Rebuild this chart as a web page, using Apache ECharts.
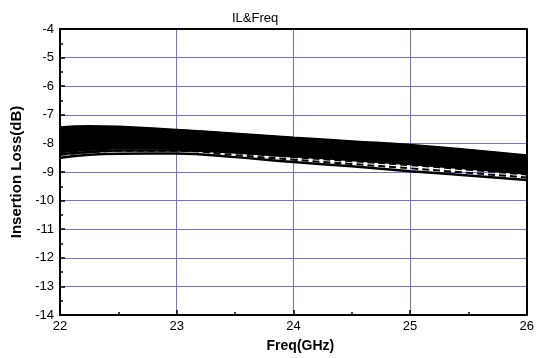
<!DOCTYPE html>
<html>
<head>
<meta charset="utf-8">
<script src="https://cdn.jsdelivr.net/npm/echarts@6/dist/echarts.min.js"></script>
<style>
  html, body { margin: 0; padding: 0; background: #fff; }
  #main { width: 537px; height: 358px; }
</style>
</head>
<body>
<div id="main"></div>
<script>
// frequency points (GHz)
var freq = [22, 22.25, 22.5, 23, 23.5, 24, 24.5, 25, 25.5, 26];

// solid curves, insertion loss (dB)
var solidCurves = [
    [-7.44, -7.40, -7.42, -7.53, -7.66, -7.80, -7.93, -8.06, -8.23, -8.42],
    [-7.50, -7.45, -7.46, -7.55, -7.68, -7.82, -7.95, -8.08, -8.25, -8.45],
    [-7.55, -7.50, -7.50, -7.58, -7.70, -7.84, -7.97, -8.10, -8.27, -8.47],
    [-7.59, -7.54, -7.54, -7.61, -7.73, -7.87, -8.00, -8.13, -8.30, -8.50],
    [-7.62, -7.58, -7.57, -7.64, -7.76, -7.89, -8.02, -8.16, -8.32, -8.52],
    [-7.66, -7.62, -7.61, -7.67, -7.78, -7.92, -8.05, -8.18, -8.34, -8.55],
    [-7.70, -7.66, -7.64, -7.70, -7.81, -7.94, -8.07, -8.20, -8.36, -8.57],
    [-7.74, -7.69, -7.67, -7.72, -7.83, -7.96, -8.10, -8.23, -8.39, -8.60],
    [-7.78, -7.72, -7.70, -7.75, -7.86, -7.99, -8.12, -8.26, -8.42, -8.62],
    [-7.82, -7.76, -7.73, -7.78, -7.89, -8.02, -8.15, -8.29, -8.45, -8.65],
    [-7.85, -7.79, -7.76, -7.80, -7.91, -8.04, -8.17, -8.31, -8.47, -8.67],
    [-7.89, -7.83, -7.79, -7.83, -7.94, -8.07, -8.20, -8.34, -8.50, -8.70],
    [-7.92, -7.86, -7.82, -7.86, -7.97, -8.10, -8.23, -8.37, -8.53, -8.72],
    [-7.95, -7.89, -7.85, -7.88, -7.99, -8.12, -8.25, -8.39, -8.55, -8.75],
    [-7.98, -7.92, -7.88, -7.91, -8.02, -8.15, -8.28, -8.42, -8.58, -8.78],
    [-8.02, -7.95, -7.91, -7.94, -8.05, -8.18, -8.31, -8.45, -8.61, -8.81],
    [-8.05, -7.98, -7.94, -7.97, -8.08, -8.21, -8.34, -8.48, -8.64, -8.84],
    [-8.09, -8.02, -7.97, -8.00, -8.11, -8.24, -8.37, -8.51, -8.67, -8.87],
    [-8.12, -8.05, -8.00, -8.03, -8.14, -8.27, -8.40, -8.54, -8.70, -8.90],
    [-8.16, -8.08, -8.04, -8.06, -8.17, -8.31, -8.44, -8.58, -8.74, -8.93],
    [-8.20, -8.12, -8.07, -8.09, -8.20, -8.34, -8.47, -8.61, -8.77, -8.96],
    [-8.24, -8.16, -8.11, -8.12, -8.24, -8.38, -8.51, -8.65, -8.81, -9.00],
    [-8.30, -8.22, -8.17, -8.18, -8.28, -8.42, -8.55, -8.69, -8.85, -9.03],
    [-8.38, -8.30, -8.25, -8.25, -8.32, -8.45, -8.58, -8.72, -8.88, -9.05],
    [-8.50, -8.40, -8.36, -8.35, -8.48, -8.65, -8.80, -8.97, -9.12, -9.28]
];

// dashed curves
var dashedCurves = [
    [-8.30, -8.22, -8.17, -8.18, -8.33, -8.48, -8.62, -8.76, -8.92, -9.09],
    [-8.40, -8.31, -8.26, -8.26, -8.41, -8.57, -8.72, -8.87, -9.03, -9.19]
];

var xTicks = [22, 23, 24, 25, 26];
var yTicks = [-4, -5, -6, -7, -8, -9, -10, -11, -12, -13, -14];

function toPairs(vals) {
    var out = [];
    for (var i = 0; i < freq.length; i++) {
        out.push([freq[i], vals[i]]);
    }
    return out;
}

var series = [];
solidCurves.forEach(function (c) {
    series.push({
        type: 'line', data: toPairs(c), smooth: true, symbol: 'none',
        xAxisIndex: 0, yAxisIndex: 0,
        lineStyle: { color: '#000', width: 2.5 }
    });
});
dashedCurves.forEach(function (c) {
    series.push({
        type: 'line', data: toPairs(c), smooth: true, symbol: 'none',
        xAxisIndex: 0, yAxisIndex: 0,
        lineStyle: { color: '#000', width: 2, type: [7, 4] }
    });
});

var myChart = echarts.init(document.getElementById('main'), null, { renderer: 'canvas' });
var font = '"Liberation Sans", Arial, sans-serif';
var option = {
    animation: false,
    backgroundColor: '#fff',
    title: {
        text: 'IL&Freq',
        left: 227, top: 7,
        textStyle: { fontFamily: font, fontSize: 13, fontWeight: 'normal', color: '#000' }
    },
    grid: { left: 60, right: 9, top: 29, bottom: 41 },
    xAxis: [{
        type: 'value', min: xTicks[0], max: xTicks[xTicks.length - 1], interval: 1,
        name: 'Freq(GHz)', nameLocation: 'middle', nameGap: 24,
        nameTextStyle: { fontFamily: font, fontSize: 14, fontWeight: 'bold', color: '#000', padding: [0, 0, 0, 14] },
        axisLine: { show: true, onZero: false, lineStyle: { color: '#000', width: 2 } },
        axisTick: { show: true, inside: true, length: 5, lineStyle: { color: '#000', width: 1.5 } },
        minorTick: { show: true, splitNumber: 2, length: 3, lineStyle: { color: '#000', width: 1.5 } },
        axisLabel: { fontFamily: font, fontSize: 13, color: '#000', margin: 5 },
        splitLine: { show: true, lineStyle: { color: '#7070e0', width: 1 } }
    }, {
        type: 'value', position: 'top', min: xTicks[0], max: xTicks[xTicks.length - 1],
        axisLine: { show: true, onZero: false, lineStyle: { color: '#000', width: 2 } },
        axisTick: { show: false }, axisLabel: { show: false }, splitLine: { show: false }
    }],
    yAxis: [{
        type: 'value', min: yTicks[yTicks.length - 1], max: yTicks[0], interval: 1,
        name: 'Insertion Loss(dB)', nameLocation: 'middle', nameGap: 34,
        nameTextStyle: { fontFamily: font, fontSize: 15, fontWeight: 'bold', color: '#000' },
        axisLine: { show: true, onZero: false, lineStyle: { color: '#000', width: 2 } },
        axisTick: { show: true, inside: true, length: 5, lineStyle: { color: '#000', width: 1.5 } },
        minorTick: { show: true, splitNumber: 2, length: 3, lineStyle: { color: '#000', width: 1.5 } },
        axisLabel: { fontFamily: font, fontSize: 13, color: '#000', margin: 6 },
        splitLine: { show: true, lineStyle: { color: '#7070e0', width: 1 } }
    }, {
        type: 'value', position: 'right', min: yTicks[yTicks.length - 1], max: yTicks[0],
        axisLine: { show: true, onZero: false, lineStyle: { color: '#000', width: 2 } },
        axisTick: { show: false }, axisLabel: { show: false }, splitLine: { show: false }
    }],
    series: series
};
myChart.setOption(option);
</script>
</body>
</html>
